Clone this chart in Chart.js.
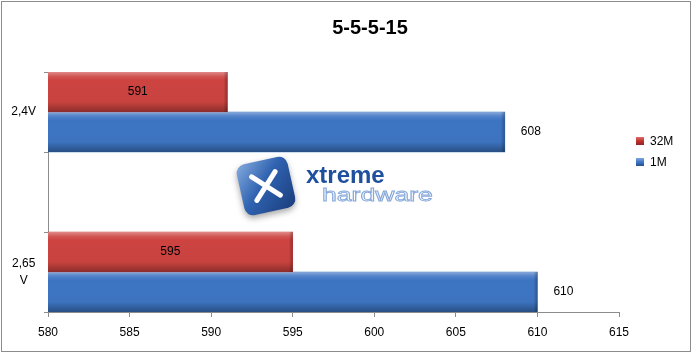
<!DOCTYPE html>
<html>
<head>
<meta charset="utf-8">
<script src="https://cdn.jsdelivr.net/npm/chart.js@4.4.1/dist/chart.umd.min.js"></script>
<style>
  html, body { margin: 0; padding: 0; background: #fff; }
  #wrap { position: relative; width: 692px; height: 353px; }
  canvas { display: block; }
  #frame { position: absolute; left: 1px; top: 1px; width: 688px; height: 349px; border: 1px solid #8c8c8c; pointer-events: none; }
</style>
</head>
<body>
<div id="wrap">
  <canvas id="c" width="692" height="353"></canvas>
  <div id="frame"></div>
</div>
<script>
// Memory timings chart: 5-5-5-15
const chartTitle = '5-5-5-15';
const categories = ['2,4V', '', ['2,65', 'V']];
const seriesNames = ['32M', '1M'];
const values32M = [591, null, 595];
const values1M = [608, null, 610];
const xTicks = [580, 585, 590, 595, 600, 605, 610, 615];

const FONT = '"Liberation Sans", Arial, sans-serif';
const RED = '#cc4340';
const BLUE = '#3d74c2';

// left edge of the value axis, used as the visual start of every bar
function axisStart(chart) {
  const xs = chart.scales.x;
  return xs.getPixelForValue(xs.min);
}

const titlePlugin = {
  id: 'titleText',
  afterDraw(chart) {
    const ctx = chart.ctx;
    ctx.save();
    ctx.font = 'bold 20px ' + FONT;
    ctx.fillStyle = '#000';
    ctx.textAlign = 'center';
    ctx.textBaseline = 'middle';
    ctx.fillText(chartTitle, 370, 28);
    ctx.restore();
  }
};

const logoPlugin = {
  id: 'logoMark',
  beforeDatasetsDraw(chart) {
    const ctx = chart.ctx;
    ctx.save();
    // tilted square badge
    ctx.translate(266, 186);
    ctx.rotate(-0.22);
    const s = 52;
    const g = ctx.createLinearGradient(-s / 2, -s / 2, s / 2, s / 2);
    g.addColorStop(0, '#86acdf');
    g.addColorStop(0.45, '#2f62b0');
    g.addColorStop(1, '#1b3d7c');
    ctx.fillStyle = g;
    ctx.shadowColor = 'rgba(0,0,0,0.35)';
    ctx.shadowBlur = 6;
    ctx.shadowOffsetY = 3;
    ctx.beginPath();
    ctx.roundRect(-s / 2, -s / 2, s, s, 9);
    ctx.fill();
    ctx.shadowColor = 'transparent';
    ctx.strokeStyle = '#ffffff';
    ctx.lineWidth = 5;
    ctx.lineCap = 'round';
    ctx.beginPath();
    ctx.moveTo(-12, -12); ctx.lineTo(12, 12);
    ctx.moveTo(12, -12); ctx.lineTo(-12, 12);
    ctx.stroke();
    ctx.restore();

    ctx.save();
    ctx.textBaseline = 'alphabetic';
    ctx.textAlign = 'left';
    ctx.font = 'bold 24px ' + FONT;
    ctx.fillStyle = '#1f4f9f';
    ctx.fillText('xtreme', 306, 183);
    ctx.translate(322, 201);
    ctx.scale(1.4, 1);
    ctx.font = '19px ' + FONT;
    ctx.strokeStyle = '#86a8da';
    ctx.lineWidth = 0.9;
    ctx.strokeText('hardware', 0, 0);
    ctx.restore();
  }
};

// bevel shading over each bar plus value labels
const barDecor = {
  id: 'barDecor',
  afterDatasetsDraw(chart) {
    const ctx = chart.ctx;
    const start = axisStart(chart);
    const area = chart.chartArea;
    ctx.save();
    ctx.beginPath();
    ctx.rect(area.left, area.top, area.right - area.left, area.bottom - area.top);
    ctx.clip();
    chart.data.datasets.forEach((ds, di) => {
      const meta = chart.getDatasetMeta(di);
      meta.data.forEach((bar, i) => {
        if (ds.data[i] === null || ds.data[i] === undefined) return;
        const p = bar.getProps(['x', 'y', 'height'], true);
        const top = p.y - p.height / 2;
        const w = p.x - start;
        const g = ctx.createLinearGradient(0, top, 0, top + p.height);
        g.addColorStop(0, 'rgba(255,255,255,0.38)');
        g.addColorStop(0.1, 'rgba(255,255,255,0.12)');
        g.addColorStop(0.2, 'rgba(255,255,255,0)');
        g.addColorStop(0.75, 'rgba(0,0,0,0.02)');
        g.addColorStop(1, 'rgba(0,0,0,0.32)');
        ctx.fillStyle = g;
        ctx.fillRect(start, top, w, p.height);
        // darker end cap on the right
        const e = ctx.createLinearGradient(p.x - 4, 0, p.x, 0);
        e.addColorStop(0, 'rgba(0,0,0,0)');
        e.addColorStop(1, 'rgba(0,0,0,0.28)');
        ctx.fillStyle = e;
        ctx.fillRect(p.x - 4, top, 4, p.height);
      });
    });
    ctx.restore();

    ctx.save();
    ctx.font = '12px ' + FONT;
    ctx.fillStyle = '#000';
    ctx.textBaseline = 'middle';
    chart.data.datasets.forEach((ds, di) => {
      const meta = chart.getDatasetMeta(di);
      meta.data.forEach((bar, i) => {
        const v = ds.data[i];
        if (v === null || v === undefined) return;
        const p = bar.getProps(['x', 'y'], true);
        if (di === 0) {
          ctx.textAlign = 'center';
          ctx.fillText(String(v), (p.x + start) / 2, p.y);
        } else {
          ctx.textAlign = 'left';
          ctx.fillText(String(v), p.x + 16, p.y);
        }
      });
    });
    ctx.restore();
  }
};

const legendPlugin = {
  id: 'sideLegend',
  afterDraw(chart) {
    const ctx = chart.ctx;
    ctx.save();
    ctx.font = '12px ' + FONT;
    ctx.textBaseline = 'middle';
    ctx.textAlign = 'left';
    const swatch = [['#e46a66', '#c0322f', '#8e2423'], ['#7fa7de', '#3f76c4', '#25518f']];
    chart.data.datasets.forEach((ds, i) => {
      const y = 141 + i * 21;
      const g = ctx.createLinearGradient(0, y - 4, 0, y + 4);
      g.addColorStop(0, swatch[i][0]);
      g.addColorStop(0.5, swatch[i][1]);
      g.addColorStop(1, swatch[i][2]);
      ctx.fillStyle = g;
      ctx.fillRect(636, y - 4, 8, 8);
      ctx.fillStyle = '#000';
      ctx.fillText(ds.label, 650, y + 1);
    });
    ctx.restore();
  }
};

new Chart(document.getElementById('c'), {
  type: 'bar',
  data: {
    labels: categories,
    datasets: [
      { label: seriesNames[0], data: values32M, backgroundColor: RED, borderWidth: 0 },
      { label: seriesNames[1], data: values1M, backgroundColor: BLUE, borderWidth: 0 }
    ]
  },
  options: {
    indexAxis: 'y',
    responsive: false,
    animation: false,
    devicePixelRatio: 1,
    layout: { padding: { top: 72, right: 73, bottom: 0, left: 0 } },
    datasets: { bar: { barPercentage: 1, categoryPercentage: 1, skipNull: false } },
    plugins: {
      legend: { display: false },
      title: { display: false },
      tooltip: { enabled: false }
    },
    scales: {
      x: {
        type: 'linear',
        min: xTicks[0],
        max: xTicks[xTicks.length - 1],
        afterBuildTicks(axis) { axis.ticks = xTicks.map(v => ({ value: v })); },
        afterFit(axis) { axis.height = 41; },
        grid: { display: true, drawOnChartArea: false, drawTicks: true, tickLength: 5, color: '#8c8c8c' },
        border: { display: true, color: '#8c8c8c', width: 1 },
        ticks: { font: { family: FONT, size: 12 }, color: '#000', padding: 8 }
      },
      y: {
        type: 'category',
        offset: true,
        afterFit(axis) { axis.width = 48; },
        grid: { display: true, offset: true, drawOnChartArea: false, drawTicks: true, tickLength: 4, color: '#8c8c8c' },
        border: { display: true, color: '#8c8c8c', width: 1 },
        ticks: { font: { family: FONT, size: 12, lineHeight: 1.45 }, color: '#000', padding: 8, crossAlign: 'center', autoSkip: false }
      }
    }
  },
  plugins: [logoPlugin, barDecor, titlePlugin, legendPlugin]
});
</script>
</body>
</html>
